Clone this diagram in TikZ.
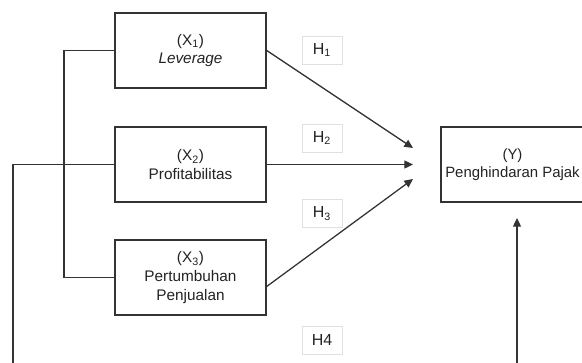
\documentclass[tikz,border=0pt]{standalone}
\usepackage{fontspec}
\setmainfont{Liberation Sans}
\usetikzlibrary{arrows.meta}
\definecolor{ln}{HTML}{333333}
\definecolor{tx}{HTML}{222222}
\definecolor{hb}{HTML}{E0E0E0}
\tikzset{
  varbox/.style={draw=ln, line width=0.95pt, minimum width=113.25pt, minimum height=56.25pt,
    align=center, text=tx, font=\fontsize{11.5}{14}\selectfont, inner sep=0pt},
  hbox/.style={draw=hb, line width=0.6pt, minimum width=30pt, minimum height=21pt,
    text=tx, font=\fontsize{12}{14}\selectfont, inner sep=0pt},
  conn/.style={draw=ln, line width=0.95pt},
  arr/.style={conn, -{Triangle[length=6.5pt,width=6pt]}}
}
\begin{document}
\begin{tikzpicture}[x=0.75pt,y=-0.75pt]
\useasboundingbox (0,0) rectangle (582,362);
\clip (0,0) rectangle (582,362);
% variable boxes
\node[varbox] (x1) at (190.5,50.5) {(X\textsubscript{1})\\\textit{Leverage}};
\node[varbox] (x2) at (190.5,164.5) {(X\textsubscript{2})\\Profitabilitas};
\node[varbox] (x3) at (190.5,277.5) {(X\textsubscript{3})\\Pertumbuhan\\Penjualan};
\node[varbox, line width=1.15pt, minimum width=107.25pt, font=\fontsize{11.2}{14}\selectfont] (y) at (512.5,164.5) {(Y)\\Penghindaran Pajak};
% hypothesis labels
\node[hbox] (h1) at (322,50) {H\textsubscript{1}};
\node[hbox] (h2) at (322,138) {H\textsubscript{2}};
\node[hbox] (h3) at (322,213.5) {H\textsubscript{3}};
\node[hbox] (h4) at (322,340) {H4};
% arrow end points
\coordinate (t1) at (413,148);
\coordinate (t2) at (413,164.5);
\coordinate (t3) at (413,179);
\coordinate (s1) at (266,50);
\coordinate (s3) at (266,287);
\coordinate (yin) at (517,218);
\coordinate (ybot) at (517,365);
\coordinate (lbot) at (13,365);
\coordinate (ltop) at (13,164.5);
\coordinate (bx) at (64,164.5);
% arrows
\draw[arr] (s1) -- (t1);
\draw[arr] (x2.east) -- (t2);
\draw[arr] (s3) -- (t3);
\draw[arr] (ybot) -- (yin);
% bracket connections
\draw[conn] (x1.west) -| (bx) |- (x3.west);
\draw[conn] (lbot) -- (ltop) -- (x2.west);
\end{tikzpicture}
\end{document}
